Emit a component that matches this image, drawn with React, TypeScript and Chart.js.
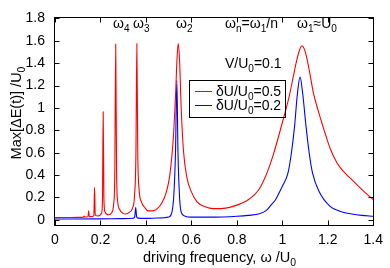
import React, { useEffect, useRef } from 'react';
import { Chart, registerables } from 'chart.js';

Chart.register(...registerables);

const FONT = "'Liberation Sans', Arial, Helvetica, sans-serif";

const xTicks = [0, 0.2, 0.4, 0.6, 0.8, 1, 1.2, 1.4];
const xTickLabels = ['0', '0.2', '0.4', '0.6', '0.8', '1', '1.2', '1.4'];
const yTicks = [0, 0.2, 0.4, 0.6, 0.8, 1, 1.2, 1.4, 1.6, 1.8];
const yTickLabels = ['0', '0.2', '0.4', '0.6', '0.8', '1', '1.2', '1.4', '1.6', '1.8'];

const seriesLabels = ['δU/U_{0}=0.5', 'δU/U_{0}=0.2'];
const seriesColors = ['#ff0000', '#0000ff'];

// δU/U0 = 0.5
const redX = [
  0, 0.05, 0.1, 0.125, 0.128, 0.131, 0.145, 0.148, 0.151, 0.165, 0.171, 0.174, 0.177,
  0.19, 0.205, 0.209, 0.212, 0.215, 0.22, 0.235, 0.25, 0.258, 0.263, 0.267, 0.271,
  0.276, 0.285, 0.3, 0.31, 0.325, 0.34, 0.35, 0.356, 0.36, 0.364, 0.37, 0.38, 0.395,
  0.41, 0.43, 0.45, 0.47, 0.49, 0.505, 0.52, 0.53, 0.537, 0.542, 0.548, 0.555, 0.565,
  0.58, 0.6, 0.625, 0.65, 0.68, 0.71, 0.75, 0.79, 0.82, 0.85, 0.88, 0.9, 0.92, 0.94,
  0.96, 0.98, 1.0, 1.015, 1.032, 1.05, 1.065, 1.076, 1.086, 1.096, 1.105, 1.12, 1.136,
  1.16, 1.184, 1.21, 1.24, 1.27, 1.3, 1.35, 1.4,
];
const redY = [
  0.02, 0.021, 0.022, 0.024, 0.035, 0.025, 0.027, 0.08, 0.028, 0.03, 0.04, 0.29, 0.04,
  0.035, 0.06, 0.2, 0.965, 0.2, 0.07, 0.045, 0.065, 0.14, 0.4, 1.57, 0.4,
  0.16, 0.09, 0.058, 0.052, 0.065, 0.1, 0.22, 0.6, 1.575, 0.6, 0.27, 0.16, 0.11,
  0.08, 0.08, 0.1, 0.15, 0.25, 0.4, 0.72, 1.1, 1.45, 1.575, 1.42, 1.0, 0.62,
  0.38, 0.25, 0.16, 0.125, 0.105, 0.1, 0.105, 0.125, 0.148, 0.18, 0.23, 0.28, 0.36, 0.46,
  0.58, 0.72, 0.87, 0.98, 1.12, 1.3, 1.44, 1.52, 1.556, 1.53, 1.47, 1.32, 1.14,
  0.96, 0.8, 0.64, 0.51, 0.43, 0.37, 0.27, 0.18,
];

// δU/U0 = 0.2
const blueX = [
  0, 0.2, 0.3, 0.345, 0.351, 0.355, 0.359, 0.365, 0.4, 0.45, 0.5, 0.513, 0.522, 0.53,
  0.536, 0.541, 0.548, 0.555, 0.57, 0.6, 0.7, 0.8, 0.85, 0.9, 0.93, 0.952, 0.97, 0.988,
  1.0, 1.025, 1.04, 1.054, 1.065, 1.078, 1.09, 1.104, 1.118, 1.133, 1.16, 1.21, 1.25,
  1.307, 1.35, 1.4,
];
const blueY = [
  0.008, 0.009, 0.011, 0.014, 0.03, 0.11, 0.03, 0.015, 0.013, 0.016, 0.025, 0.06, 0.2, 0.6,
  1.246, 0.6, 0.2, 0.07, 0.035, 0.024, 0.024, 0.032, 0.04, 0.055, 0.085, 0.137, 0.18, 0.25,
  0.3, 0.42, 0.6, 0.84, 1.1, 1.275, 1.12, 0.84, 0.6, 0.417, 0.26, 0.12, 0.08,
  0.052, 0.04, 0.032,
];

const annotations = [
  { text: 'ω_{4}', x: 113, y: 28 },
  { text: 'ω_{3}', x: 133, y: 28 },
  { text: 'ω_{2}', x: 176, y: 28 },
  { text: 'ω_{n}=ω_{1}/n', x: 225, y: 28 },
  { text: 'ω_{1}≈U_{0}', x: 297, y: 28 },
  { text: 'V/U_{0}=0.1', x: 225, y: 68 },
];

const xTitle = 'driving frequency, ω /U_{0}';
const yTitle = 'Max[ΔE(t)] /U_{0}';

type Seg = { t: string; sub: boolean };
function parseRich(s: string): Seg[] {
  const out: Seg[] = [];
  const re = /_\{([^}]*)\}/g;
  let last = 0;
  let m: RegExpExecArray | null;
  while ((m = re.exec(s))) {
    if (m.index > last) out.push({ t: s.slice(last, m.index), sub: false });
    out.push({ t: m[1], sub: true });
    last = m.index + m[0].length;
  }
  if (last < s.length) out.push({ t: s.slice(last), sub: false });
  return out;
}
function richWidth(ctx: CanvasRenderingContext2D, s: string, size: number) {
  let w = 0;
  for (const seg of parseRich(s)) {
    ctx.font = `${seg.sub ? size * 0.72 : size}px ${FONT}`;
    w += ctx.measureText(seg.t).width;
  }
  return w;
}
function drawRich(ctx: CanvasRenderingContext2D, s: string, x: number, y: number, size: number) {
  let cx = x;
  ctx.textBaseline = 'alphabetic';
  ctx.textAlign = 'left';
  for (const seg of parseRich(s)) {
    const fs = seg.sub ? size * 0.72 : size;
    ctx.font = `${fs}px ${FONT}`;
    ctx.fillText(seg.t, cx, y + (seg.sub ? size * 0.3 : 0));
    cx += ctx.measureText(seg.t).width;
  }
}

const framePlugin = {
  id: 'gnuFrame',
  afterDraw(chart: any) {
    const ctx: CanvasRenderingContext2D = chart.ctx;
    const { left, right, top, bottom } = chart.chartArea;
    const xs = chart.scales.x;
    const ys = chart.scales.y;
    const L = Math.round(left) - 0.5;
    const R = Math.round(right) + 0.5;
    const T = Math.round(top) - 0.5;
    const B = Math.round(bottom) + 0.5;
    ctx.save();
    ctx.strokeStyle = '#000';
    ctx.lineWidth = 1;
    ctx.beginPath();
    const tl = 5;
    for (const v of xTicks) {
      const px = Math.round(xs.getPixelForValue(v)) + 0.5;
      ctx.moveTo(px, B);
      ctx.lineTo(px, B - tl);
      ctx.moveTo(px, T);
      ctx.lineTo(px, T + tl);
    }
    for (const v of yTicks) {
      const py = Math.round(ys.getPixelForValue(v)) + 0.5;
      ctx.moveTo(L, py);
      ctx.lineTo(L + tl, py);
      ctx.moveTo(R, py);
      ctx.lineTo(R - tl, py);
    }
    ctx.stroke();
    ctx.strokeRect(L, T, R - L, B - T);

    ctx.fillStyle = '#000';
    for (const a of annotations) drawRich(ctx, a.text, a.x, a.y, 14);

    // legend
    const bx = 189.5, by = 80.5, bw = 96, bh = 37;
    ctx.strokeStyle = '#000';
    ctx.strokeRect(bx, by, bw, bh);
    const rows = [91, 105];
    seriesLabels.forEach((lab, i) => {
      ctx.strokeStyle = seriesColors[i];
      ctx.lineWidth = 1;
      ctx.beginPath();
      ctx.moveTo(195, rows[i] + 0.5);
      ctx.lineTo(212, rows[i] + 0.5);
      ctx.stroke();
      ctx.fillStyle = '#000';
      drawRich(ctx, lab, 216, rows[i] + 4.5, 14);
    });

    // axis titles
    drawRich(ctx, xTitle, 143, 262, 14.5);
    const yw = richWidth(ctx, yTitle, 14.5);
    ctx.save();
    ctx.translate(21, 113 + yw / 2);
    ctx.rotate(-Math.PI / 2);
    drawRich(ctx, yTitle, 0, 0, 14.5);
    ctx.restore();
    ctx.restore();
  },
};

export default function App() {
  const ref = useRef<HTMLCanvasElement | null>(null);
  useEffect(() => {
    if (!ref.current) return;
    const chart = new Chart(ref.current, {
      type: 'line',
      data: {
        datasets: [
          {
            label: seriesLabels[0],
            data: redX.map((x, i) => ({ x, y: redY[i] })),
            borderColor: seriesColors[0],
            borderWidth: 1.1,
            pointRadius: 0,
            cubicInterpolationMode: 'monotone',
            fill: false,
          },
          {
            label: seriesLabels[1],
            data: blueX.map((x, i) => ({ x, y: blueY[i] })),
            borderColor: seriesColors[1],
            borderWidth: 1.1,
            pointRadius: 0,
            cubicInterpolationMode: 'monotone',
            fill: false,
          },
        ],
      },
      options: {
        animation: false,
        responsive: false,
        devicePixelRatio: 1,
        layout: { padding: { top: 6, right: 12, left: 0, bottom: 0 } },
        plugins: { legend: { display: false }, tooltip: { enabled: false } },
        scales: {
          x: {
            type: 'linear',
            min: 0,
            max: 1.4,
            afterFit: (s: any) => { s.height = 43; },
            afterBuildTicks: (s: any) => { s.ticks = xTicks.map((v) => ({ value: v })); },
            grid: { display: false, drawOnChartArea: false, drawTicks: false },
            border: { display: false },
            ticks: {
              padding: 7,
              color: '#000',
              font: { family: FONT, size: 14 },
              maxRotation: 0,
              autoSkip: false,
              callback: (v: any) => xTickLabels[xTicks.indexOf(Number(v))] ?? '',
            },
          },
          y: {
            type: 'linear',
            min: -0.046,
            max: 1.8,
            afterFit: (s: any) => { s.width = 55; },
            afterBuildTicks: (s: any) => { s.ticks = yTicks.map((v) => ({ value: v })); },
            grid: { display: false, drawOnChartArea: false, drawTicks: false },
            border: { display: false },
            ticks: {
              padding: 10,
              color: '#000',
              font: { family: FONT, size: 14 },
              autoSkip: false,
              callback: (v: any) => yTickLabels[yTicks.indexOf(Number(v))] ?? '',
            },
          },
        },
      },
      plugins: [framePlugin],
    } as any);
    return () => chart.destroy();
  }, []);
  return (
    <div style={{ position: 'absolute', left: 0, top: 0, width: 390, height: 268, background: '#fff' }}>
      <canvas ref={ref} width={390} height={268} style={{ width: 390, height: 268, display: 'block' }} />
    </div>
  );
}
